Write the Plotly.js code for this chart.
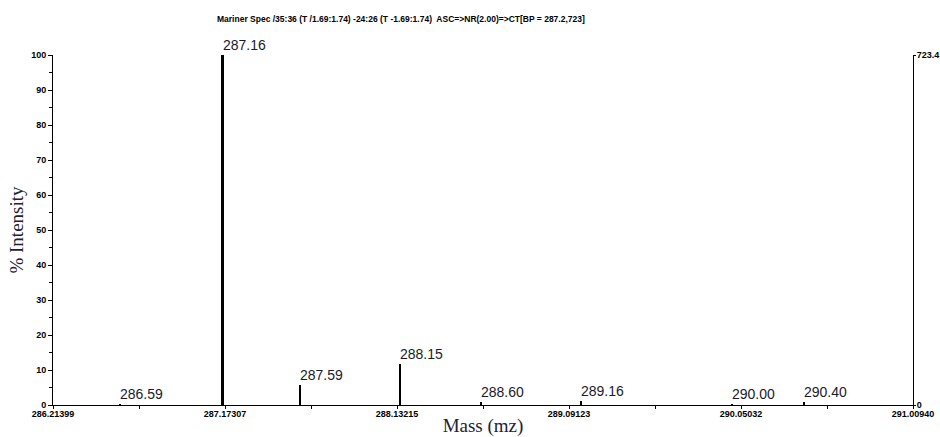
<!DOCTYPE html>
<html>
<head>
<meta charset="utf-8">
<script src="https://cdn.plot.ly/plotly-3.0.1.min.js"></script>
<style>html,body{margin:0;padding:0;background:#fff;}#chart{width:940px;height:437px;}</style>
</head>
<body>
<div id="chart"></div>
<script>
// Peak data (m/z and % intensity)
const peakMz = [286.59, 287.16, 287.59, 288.15, 288.60, 289.16, 290.00, 290.40];
const peakIntensity = [0.3, 100, 5.7, 11.6, 0.8, 1.2, 0.3, 0.9];
const peakLabels = ["286.59", "287.16", "287.59", "288.15", "288.60", "289.16", "290.00", "290.40"];

// Axis ticks
const xTickVals = [286.21399, 287.17307, 288.13215, 289.09123, 290.05032, 291.00940];
const xTickText = ["286.21399", "287.17307", "288.13215", "289.09123", "290.05032", "291.00940"];
const xMinorVals = [286.69353, 287.65261, 288.61169, 289.570775, 290.52986];
const rightTickVals = [0, 723.4];
const rightTickText = ["0", "723.4"];

const titleText = "Mariner Spec /35:36 (T /1.69:1.74) -24:26 (T -1.69:1.74)  ASC=>NR(2.00)=>CT[BP = 287.2,723]";

const widths = peakIntensity.map(v => v >= 50 ? 0.016 : 0.011);

const traces = [
  {
    type: 'bar',
    x: peakMz,
    y: peakIntensity,
    width: widths,
    marker: {color: '#000000', line: {width: 0}},
    hoverinfo: 'x+y',
    showlegend: false
  },
  {
    type: 'scatter',
    mode: 'none',
    x: [],
    y: [],
    yaxis: 'y2',
    showlegend: false,
    hoverinfo: 'skip'
  }
];

const tickFont = {family: 'Liberation Sans, Arial, sans-serif', size: 9, color: '#000', weight: 'bold'};

const annotations = peakMz.map((x, i) => ({
  x: x, y: peakIntensity[i], xref: 'x', yref: 'y',
  text: peakLabels[i], showarrow: false,
  xanchor: 'left', yanchor: 'bottom', xshift: -2, yshift: 0,
  font: {family: 'Liberation Sans, Arial, sans-serif', size: 14, color: '#1a1a2a'}
}));

annotations.push({
  x: 0.405, y: 1, xref: 'paper', yref: 'paper', yshift: 36,
  text: titleText, showarrow: false, xanchor: 'center', yanchor: 'middle',
  font: {family: 'Liberation Sans, Arial, sans-serif', size: 8.5, color: '#000', weight: 'bold'}
});

const layout = {
  width: 940, height: 437,
  margin: {l: 53, r: 27, t: 55, b: 32},
  paper_bgcolor: '#ffffff', plot_bgcolor: '#ffffff',
  showlegend: false,
  bargap: 0,
  xaxis: {
    range: [286.21399, 291.00940],
    tickmode: 'array', tickvals: xTickVals, ticktext: xTickText,
    ticks: 'outside', ticklen: 3, tickwidth: 1, tickcolor: '#000',
    minor: {tickmode: 'array', tickvals: xMinorVals, ticks: 'outside', ticklen: 3, tickcolor: '#000', showgrid: false},
    showline: true, linecolor: '#000', linewidth: 1,
    showgrid: false, zeroline: false,
    tickfont: tickFont, ticklabelstandoff: -3,
    title: {text: 'Mass (mz)', font: {family: 'Liberation Serif, DejaVu Serif, serif', size: 19, color: '#1c2236'}, standoff: 4}
  },
  yaxis: {
    range: [0, 100],
    tickmode: 'linear', tick0: 0, dtick: 10,
    ticks: 'outside', ticklen: 4, tickwidth: 1, tickcolor: '#000',
    minor: {dtick: 5, ticks: 'outside', ticklen: 3, tickcolor: '#000', showgrid: false},
    showline: true, linecolor: '#000', linewidth: 1,
    showgrid: false, zeroline: false,
    tickfont: tickFont, ticklabelstandoff: 0,
    title: {text: '% Intensity', font: {family: 'Liberation Serif, DejaVu Serif, serif', size: 19, color: '#1c2236'}, standoff: 2}
  },
  yaxis2: {
    overlaying: 'y', side: 'right',
    range: [0, 723.4],
    tickmode: 'array', tickvals: rightTickVals, ticktext: rightTickText,
    ticks: 'outside', ticklen: 2, tickcolor: '#000',
    showline: true, linecolor: '#000', linewidth: 1,
    showgrid: false, zeroline: false,
    tickfont: tickFont, ticklabelstandoff: -1
  },
  annotations: annotations
};

Plotly.newPlot('chart', traces, layout, {displayModeBar: false, staticPlot: true});
</script>
</body>
</html>
